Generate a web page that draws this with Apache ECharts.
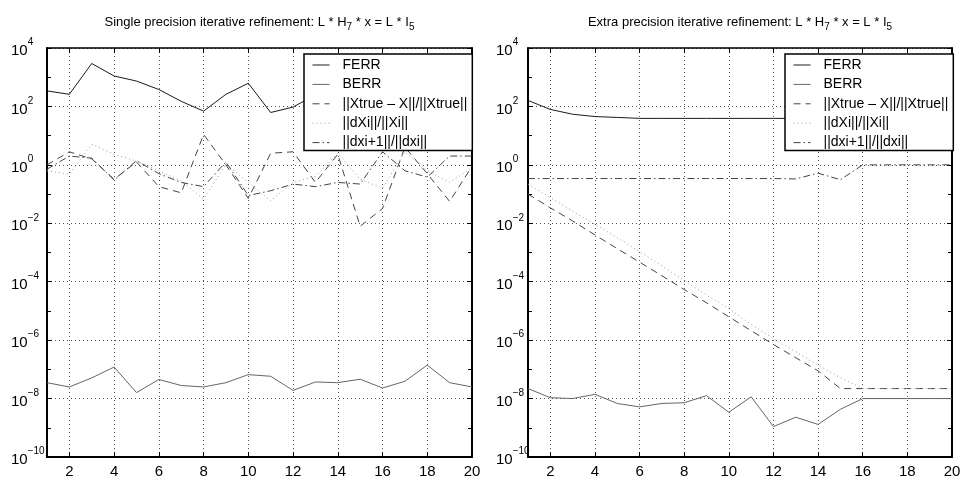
<!DOCTYPE html>
<html lang="en">
<head>
<meta charset="utf-8">
<title>Iterative refinement</title>
<script src="https://cdn.jsdelivr.net/npm/echarts@6/dist/echarts.min.js"></script>
<style>
  html, body { margin: 0; padding: 0; background: #fff; }
  #chart { width: 967px; height: 479px; }
</style>
</head>
<body>
<div id="chart"></div>
<script type="text/javascript">
// iteration number on the x axis
var iters = [1, 2, 3, 4, 5, 6, 7, 8, 9, 10, 11, 12, 13, 14, 15, 16, 17, 18, 19, 20];
var legendNames = ['FERR', 'BERR', '||Xtrue \u2013 X||/||Xtrue||', '||dXi||/||Xi||', '||dxi+1||/||dxi||'];
var xTickLabels = [2, 4, 6, 8, 10, 12, 14, 16, 18, 20];
var yTickExponents = [-10, -8, -6, -4, -2, 0, 2, 4];

// left panel: single precision
var ferrSingle = [340, 260, 2950, 1100, 740, 380, 150, 69, 260, 620, 62, 95, 250, 800, 320, 200, 500, 1000, 320, 560];
var berrSingle = [3.5e-8, 2.5e-8, 5.1e-8, 1.2e-7, 1.6e-8, 4.5e-8, 2.8e-8, 2.5e-8, 3.5e-8, 6.6e-8,
                  5.8e-8, 1.9e-8, 3.7e-8, 3.5e-8, 4.6e-8, 2.3e-8, 3.9e-8, 1.4e-7, 3.5e-8, 2.5e-8];
var errSingle = [1.0, 2.8, 1.6, 0.32, 1.26, 0.18, 0.11, 11, 1.0, 0.071, 2.5, 2.8, 0.25, 2.3, 0.0079, 0.032, 4.0, 0.5, 0.056, 0.89];
var dxSingle = [0.63, 0.48, 5.1, 2.3, 1.35, 0.63, 0.28, 0.068, 1.05, 0.25, 0.059, 0.25, 0.4, 2.5, 0.32, 0.16, 2.8, 0.63, 0.25, 0.8];
var ratioSingle = [0.71, 2.0, 1.7, 0.3, 1.4, 0.5, 0.25, 0.18, 1.26, 0.089, 0.13, 0.22, 0.18, 0.25, 0.22, 2.8, 0.63, 0.38, 2.0, 2.0];

// right panel: extra precision
var ferrExtra = [160, 79, 54, 45, 42, 39, 39, 39, 39, 39, 39, 39, 39, 39, 39, 39, 39, 39, 39, 39];
var berrExtra = [2.2e-8, 1.07e-8, 1.0e-8, 1.4e-8, 6.8e-9, 5.2e-9, 6.8e-9, 7.2e-9, 1.26e-8, 3.4e-9,
                 1.15e-8, 1.1e-9, 2.3e-9, 1.3e-9, 4.3e-9, 1.0e-8, 1.0e-8, 1.0e-8, 1.0e-8, 1.0e-8];
var errExtra = [0.1, 0.034, 0.012, 4.0e-3, 1.35e-3, 4.7e-4, 1.6e-4, 5.4e-5, 1.9e-5, 6.3e-6,
                2.1e-6, 7.1e-7, 2.5e-7, 8.9e-8, 2.2e-8, 2.2e-8, 2.2e-8, 2.2e-8, 2.2e-8, 2.2e-8];
var dxExtra = [0.22, 0.076, 0.026, 9.3e-3, 3.2e-3, 1.07e-3, 3.5e-4, 1.1e-4, 3.5e-5, 1.2e-5,
               3.5e-6, 1.1e-6, 4.0e-7, 1.4e-7, 5.2e-8, 2.2e-8, 2.2e-8, 2.2e-8, 2.2e-8, 2.2e-8];
var ratioExtra = [0.34, 0.34, 0.34, 0.34, 0.34, 0.34, 0.34, 0.34, 0.34, 0.34, 0.34, 0.34, 0.33, 0.52, 0.31, 1.0, 1.0, 1.0, 1.0, 1.0];

var FONT = 'Liberation Sans, Arial, Helvetica, sans-serif';

var lineStyles = [
  { color: '#1a1a1a', width: 1, type: 'solid' },
  { color: '#666', width: 1, type: 'solid' },
  { color: '#444', width: 1, type: [7, 5] },
  { color: '#9a9a9a', width: 1, type: [1, 3] },
  { color: '#444', width: 1, type: [7, 3, 1.5, 3] }
];

// plotted on a log10 scale
function toPoints(values) {
  return iters.map(function (it, i) { return [it, Math.log10(values[i])]; });
}

function makeSeries(sets, xi, yi) {
  return sets.map(function (vals, k) {
    return {
      name: legendNames[k],
      type: 'line',
      xAxisIndex: xi,
      yAxisIndex: yi,
      data: toPoints(vals),
      symbol: 'none',
      lineStyle: lineStyles[k],
      itemStyle: { color: lineStyles[k].color },
      animation: false
    };
  });
}

function expLabel(v) {
  if (yTickExponents.indexOf(v) < 0) return '';
  var e = v < 0 ? '\u2212' + Math.abs(v) : String(v);
  return '{b|10}{s|' + e + '}';
}

var tickRich = {
  b: { fontSize: 15, fontFamily: FONT, color: '#000', verticalAlign: 'top', padding: [6, 0, 0, 0] },
  s: { fontSize: 10, fontFamily: FONT, color: '#000', verticalAlign: 'top' }
};

function xAxes(gridIndex) {
  var bottom = {
    type: 'value', gridIndex: gridIndex, position: 'bottom', min: 1, max: 20, splitNumber: 10,
    axisLine: { onZero: false, lineStyle: { color: '#000', width: 2 } },
    axisTick: { inside: true, length: 5, lineStyle: { color: '#000' } },
    axisLabel: {
      margin: 7, fontSize: 15, fontFamily: FONT, color: '#000',
      formatter: function (v) { return xTickLabels.indexOf(v) >= 0 ? String(v) : ''; }
    },
    splitLine: { show: true, lineStyle: { color: '#555', width: 1, type: [1, 3] } }
  };
  var top = {
    type: 'value', gridIndex: gridIndex, position: 'top', min: 1, max: 20, splitNumber: 10,
    axisLine: { onZero: false, lineStyle: { color: '#000', width: 1.5 } },
    axisTick: { inside: true, length: 5, lineStyle: { color: '#000' } },
    axisLabel: { show: false },
    splitLine: { show: false }
  };
  return [bottom, top];
}

function yAxes(gridIndex, margin) {
  var left = {
    type: 'value', gridIndex: gridIndex, position: 'left', min: -10, max: 4, interval: 2,
    axisLine: { onZero: false, lineStyle: { color: '#000', width: 2 } },
    axisTick: { inside: true, length: 5, lineStyle: { color: '#000' } },
    minorTick: { show: true, splitNumber: 2, length: 4, lineStyle: { color: '#000' } },
    axisLabel: { margin: margin, align: 'left', formatter: expLabel, rich: tickRich },
    splitLine: { show: true, lineStyle: { color: '#555', width: 1, type: [1, 3] } }
  };
  var right = {
    type: 'value', gridIndex: gridIndex, position: 'right', min: -10, max: 4, interval: 2,
    axisLine: { onZero: false, lineStyle: { color: '#000', width: 2 } },
    axisTick: { inside: true, length: 5, lineStyle: { color: '#000' } },
    minorTick: { show: true, splitNumber: 2, length: 4, lineStyle: { color: '#000' } },
    axisLabel: { show: false },
    splitLine: { show: false }
  };
  return [left, right];
}

function titleText(prefix) {
  return '{n|' + prefix + ' iterative refinement: L * H}{sub|7}{n| * x = L * I}{sub|5}';
}

var titleRich = {
  n: { fontSize: 13, fontFamily: FONT, fontWeight: 'normal', color: '#000', verticalAlign: 'top' },
  sub: { fontSize: 10, fontFamily: FONT, fontWeight: 'normal', color: '#000', verticalAlign: 'top', padding: [6, 0, 0, 0] }
};

function legendAt(left) {
  return {
    orient: 'vertical', left: left, top: 54,
    data: legendNames,
    padding: [4, 5, 1, 8],
    itemWidth: 17, itemHeight: 14, itemGap: 5.4,
    backgroundColor: '#fff', borderColor: '#000', borderWidth: 1.5,
    itemStyle: { opacity: 0 },
    lineStyle: { width: 1 },
    textStyle: { fontSize: 14, fontFamily: FONT, color: '#000', lineHeight: 14, padding: [0, 0, 0, 8] },
    selectedMode: false
  };
}

var chart = echarts.init(document.getElementById('chart'), null, { renderer: 'canvas' });

var option = {
  backgroundColor: '#fff',
  animation: false,
  title: [
    { text: titleText('Single precision'), left: 259.5, top: 16, textAlign: 'center', padding: 0,
      textStyle: { fontWeight: 'normal', fontSize: 13, rich: titleRich } },
    { text: titleText('Extra precision'), left: 740, top: 16, textAlign: 'center', padding: 0,
      textStyle: { fontWeight: 'normal', fontSize: 13, rich: titleRich } }
  ],
  legend: [legendAt(304), legendAt(785)],
  grid: [
    { left: 47, top: 48, width: 425, height: 410 },
    { left: 528, top: 48, width: 424, height: 410 }
  ],
  xAxis: xAxes(0).concat(xAxes(1)),
  yAxis: yAxes(0, 36).concat(yAxes(1, 32)),
  series: makeSeries([ferrSingle, berrSingle, errSingle, dxSingle, ratioSingle], 0, 0)
    .concat(makeSeries([ferrExtra, berrExtra, errExtra, dxExtra, ratioExtra], 2, 2))
};

chart.setOption(option);
</script>
</body>
</html>
